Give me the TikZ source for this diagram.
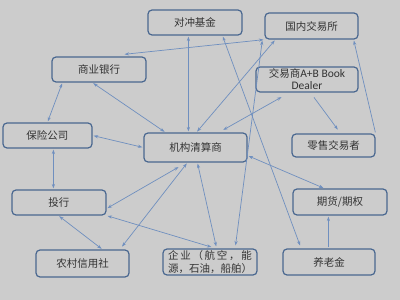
\documentclass[tikz,border=0pt]{standalone}
\usepackage{fontspec}
\setmainfont{Noto Sans CJK SC}
\newfontfamily\lat{Carlito}
\usetikzlibrary{arrows.meta}
\definecolor{bg}{HTML}{CCCCCC}
\definecolor{bd}{HTML}{4A6890}
\definecolor{ln}{HTML}{6F8FBF}
\definecolor{tx}{HTML}{333333}
\newcommand{\gp}{\hspace{1.7pt}}
\begin{document}
\begin{tikzpicture}[x=1pt,y=-1pt,
 box/.style={draw=bd, line width=1.2pt, rounded corners=4pt, fill=bg, text=tx,
   font=\fontsize{10.5}{13}\selectfont, inner sep=0pt, align=center,
   minimum width=94pt, minimum height=25pt},
 tip/.tip={Stealth[length=4.5pt,width=3.2pt]},
 link/.style={draw=ln, line width=0.7pt, tip-tip, shorten >=1pt, shorten <=1pt},
 one/.style={draw=ln, line width=0.7pt, -tip, shorten >=1pt, shorten <=1pt}]
\fill[bg] (0,0) rectangle (400,300);
\useasboundingbox (0,0) rectangle (400,300);
% nodes
\node[box] (hedge) at (195,22.5) {对冲基金};
\node[box, minimum width=93pt, minimum height=26pt] (dom) at (311.5,26) {国内交易所};
\node[box] (bank) at (99,69.5) {商业银行};
\node[box, minimum width=102pt] (dealer) at (307,79.5) {交易商{\lat\fontsize{11.5}{13}\selectfont A+B Book}\\[-1pt]{\lat\fontsize{11.5}{13}\selectfont Dealer}};
\node[box, minimum width=89pt] (ins) at (47.5,135.5) {保险公司};
\node[box, minimum width=103pt, minimum height=29pt] (clr) at (195.5,147.5) {机构清算商};
\node[box, minimum width=83pt, minimum height=23pt] (retail) at (333.5,145.5) {零售交易者};
\node[box] (ib) at (59,202.5) {投行};
\node[box, minimum height=26pt] (fut) at (340,202) {期货/期权};
\node[box, minimum width=93pt, minimum height=27pt] (rcc) at (82.5,263.5) {农村信用社};
\node[box, minimum height=26pt] (corp) at (210,262) {企\gp 业\gp （\gp 航\gp 空\gp ，\gp 能\\源，石油，船舶）};
\node[box, minimum width=92pt, minimum height=26pt] (pen) at (329,262) {养老金};
% connectors
\draw[link] ([xshift=11pt]bank.south west) -- ([xshift=45pt]ins.north west);
\draw[link] ([xshift=41pt]bank.south west) -- ([xshift=22pt]clr.north west);
\draw[link] ([xshift=-23pt,yshift=2pt]bank.north east) -- (dom.south west);
\draw[link] ([xshift=41pt]hedge.south west) -- ([xshift=45pt]clr.north west);
\draw[link] ([xshift=11pt]dom.south west) -- ([xshift=53pt]clr.north west);
\draw[link] ([xshift=27pt,yshift=-4pt]dealer.south west) -- ([xshift=79pt,yshift=2pt]clr.north west);
\draw[one] ([xshift=58pt,yshift=-4pt]dealer.south west) -- ([xshift=47pt,yshift=3pt]retail.north west);
\draw[one] (retail.north east) -- ([xshift=-5pt]dom.south east);
\draw[link] ([xshift=75pt]hedge.south west) -- ([xshift=18pt,yshift=2pt]pen.north west);
\draw[link] (ins.east) -- (clr.west);
\draw[link] ([xshift=51pt]ins.south west) -- ([xshift=42pt]ib.north west);
\draw[link] ([yshift=7pt]ib.south east) -- ([xshift=36pt,yshift=-4pt]clr.south west);
\draw[link] ([xshift=86pt,yshift=2pt]rcc.north west) -- ([xshift=44pt]clr.south west);
\draw[link] ([xshift=47pt]ib.south west) -- ([xshift=67pt]rcc.north west);
\draw[link] (ib.south east) -- ([xshift=50pt,yshift=1pt]corp.north west);
\draw[link] ([xshift=54pt]clr.south west) -- ([xshift=54pt,yshift=1pt]corp.north west);
\draw[link] ([xshift=-2pt]dom.south west) -- ([xshift=73pt,yshift=2pt]corp.north west);
\draw[link] ([yshift=7pt]clr.south east) -- ([xshift=32pt]fut.north west);
\draw[one] ([xshift=46pt]pen.north west) -- ([xshift=36pt]fut.south west);
\end{tikzpicture}
\end{document}
